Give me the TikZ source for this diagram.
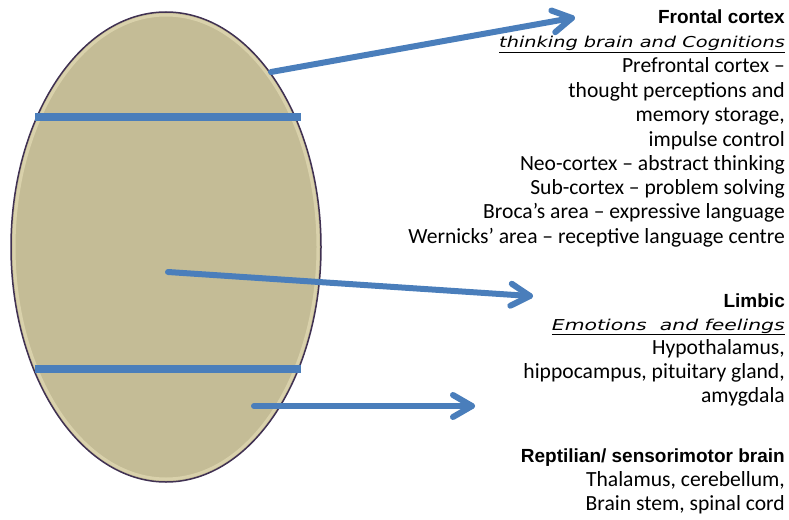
\documentclass[tikz,border=0pt]{standalone}
\usepackage{fontspec}
\usepackage{graphicx}
\setmainfont{Carlito}
\newfontfamily\titlefont{Liberation Sans}
\newfontfamily\handfont{DejaVu Sans}
\usetikzlibrary{calc,shapes.geometric}
\definecolor{eggfill}{HTML}{C4BC96}
\definecolor{eggrim}{HTML}{E2DBB4}
\definecolor{eggline}{HTML}{403152}
\definecolor{lineblue}{HTML}{4A7EBB}
\begin{document}
\begin{tikzpicture}[x=1pt,y=-1pt,
  body/.style={anchor=base east, inner sep=0pt, font=\fontsize{21.6}{24}\selectfont},
  heading/.style={anchor=base east, inner sep=0pt, font=\titlefont\bfseries\fontsize{19}{22}\selectfont},
  hand/.style={anchor=base east, inner sep=0pt, font=\handfont\itshape\fontsize{15}{18}\selectfont},
  band/.style={line width=7.5pt, draw=lineblue},
  pointer/.style={line width=6pt, draw=lineblue, line cap=round, line join=round}]
\useasboundingbox (0,0) rectangle (789,519);
% brain egg
\node[ellipse, draw=eggline, line width=1.5pt, fill=eggfill, inner sep=0pt,
  minimum width=310pt, minimum height=470pt] (brain) at (166,247) {};
\draw[eggrim, line width=3pt, opacity=0.7] (166,247) ellipse [x radius=152pt, y radius=232pt];
% bands
\coordinate (b1l) at (35,117); \coordinate (b1r) at (301,117);
\coordinate (b2l) at (35,369); \coordinate (b2r) at (301,369);
\draw[band] (b1l) -- (b1r);
\draw[band] (b2l) -- (b2r);
% texts: frontal
\node[heading] (f0) at (785,24) {Frontal cortex};
\node[hand] (f1) at (785,48) {\scalebox{1.29}[1]{\underline{thinking brain and Cognitions}}};
\node[body] (f2) at (785,73) {Prefrontal cortex –};
\node[body] (f3) at (785,97) {thought perceptions and};
\node[body] (f4) at (785,121) {memory storage,};
\node[body] (f5) at (785,146) {impulse control};
\node[body] (f6) at (785,170) {Neo-cortex – abstract thinking};
\node[body] (f7) at (785,194) {Sub-cortex – problem solving};
\node[body] (f8) at (785,218) {Broca’s area – expressive language};
\node[body] (f9) at (785,243) {Wernicks’ area – receptive language centre};
% limbic
\node[heading] (l0) at (785,307) {Limbic};
\node[hand] (l1) at (785,330) {\scalebox{1.36}[1]{\underline{Emotions\ \ and feelings}}};
\node[body] (l2) at (785,354) {Hypothalamus,};
\node[body] (l3) at (785,378) {hippocampus, pituitary gland,};
\node[body] (l4) at (785,402) {amygdala};
% reptilian
\node[heading] (r0) at (785,462) {Reptilian/ sensorimotor brain};
\node[body] (r1) at (785,486) {Thalamus, cerebellum,};
\node[body] (r2) at (785,510) {Brain stem, spinal cord};
% arrows
\coordinate (a1s) at (271,72);  \coordinate (a1e) at (572,18);
\coordinate (a2s) at (168,272); \coordinate (a2e) at (530,296);
\coordinate (a3s) at (254,406); \coordinate (a3e) at (472,406);
\foreach \s/\e in {a1s/a1e, a2s/a2e, a3s/a3e}{
  \coordinate (\e h) at ($(\e)!19pt!(\s)$);
  \coordinate (\e l) at ($(\e h)!11pt!90:(\e)$);
  \coordinate (\e r) at ($(\e h)!11pt!-90:(\e)$);
  \draw[pointer] (\s) -- (\e);
  \draw[pointer] (\e l) -- (\e) -- (\e r);
}
\end{tikzpicture}
\end{document}
